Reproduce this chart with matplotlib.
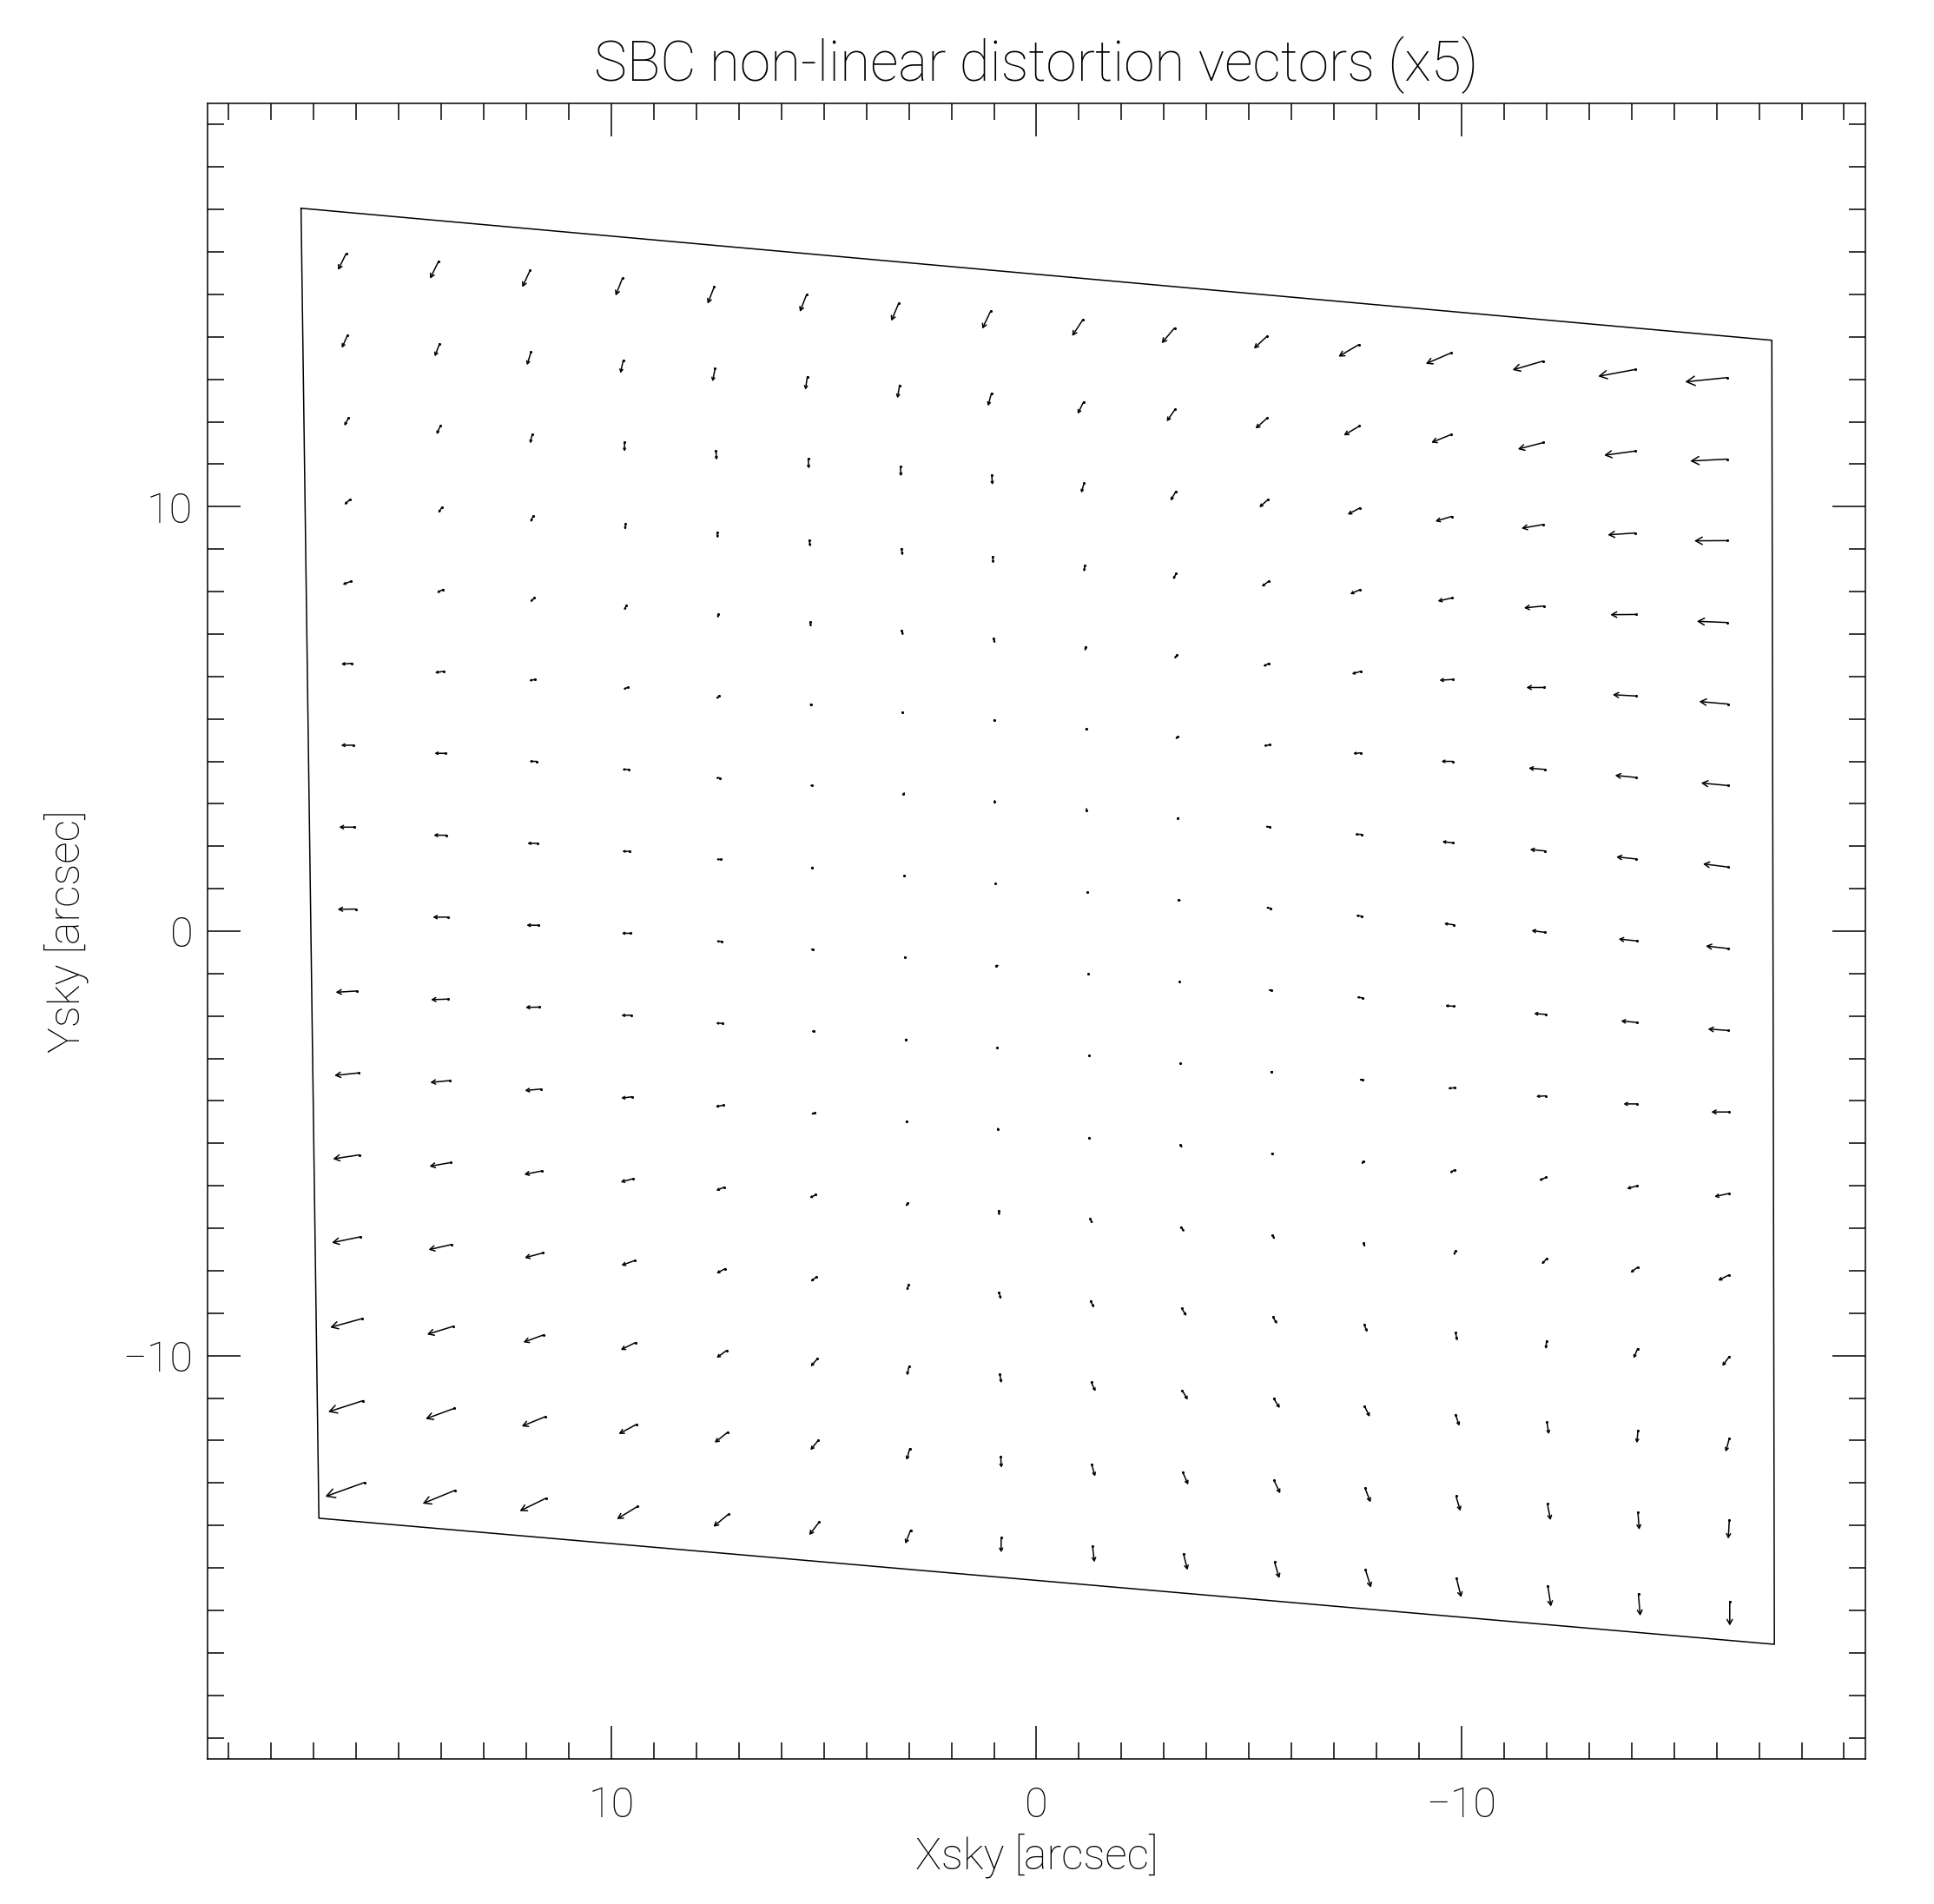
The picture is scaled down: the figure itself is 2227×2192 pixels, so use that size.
#!/usr/bin/python3

import matplotlib
matplotlib.use('Agg')
import matplotlib.pyplot as plt
from matplotlib.patches import FancyArrowPatch
from matplotlib.ticker import MultipleLocator

# sample grid on the sky [arcsec], rows from top of the detector, 16 columns each
x_tail = [
	[16.24, 14.07, 11.91, 9.74, 7.58, 5.41, 3.24, 1.08, -1.09, -3.25, -5.42, -7.59, -9.75, -11.92, -14.08, -16.25],
	[16.21, 14.04, 11.89, 9.72, 7.56, 5.39, 3.22, 1.06, -1.11, -3.26, -5.43, -7.60, -9.76, -11.93, -14.09, -16.25],
	[16.18, 14.02, 11.86, 9.69, 7.54, 5.37, 3.20, 1.05, -1.12, -3.28, -5.44, -7.61, -9.77, -11.93, -14.09, -16.26],
	[16.15, 13.99, 11.84, 9.67, 7.51, 5.35, 3.18, 1.03, -1.14, -3.29, -5.46, -7.62, -9.78, -11.94, -14.10, -16.26],
	[16.13, 13.96, 11.81, 9.65, 7.49, 5.33, 3.17, 1.01, -1.15, -3.31, -5.47, -7.63, -9.79, -11.95, -14.10, -16.27],
	[16.10, 13.94, 11.79, 9.62, 7.47, 5.31, 3.15, 1.00, -1.17, -3.32, -5.48, -7.64, -9.79, -11.96, -14.11, -16.27],
	[16.07, 13.91, 11.76, 9.60, 7.45, 5.29, 3.13, 0.98, -1.18, -3.33, -5.49, -7.65, -9.80, -11.96, -14.11, -16.27],
	[16.04, 13.88, 11.74, 9.57, 7.43, 5.27, 3.11, 0.96, -1.20, -3.35, -5.50, -7.66, -9.81, -11.97, -14.12, -16.28],
	[16.01, 13.85, 11.71, 9.55, 7.40, 5.25, 3.09, 0.94, -1.21, -3.36, -5.52, -7.67, -9.82, -11.98, -14.12, -16.28],
	[15.98, 13.83, 11.69, 9.53, 7.38, 5.23, 3.07, 0.93, -1.23, -3.38, -5.53, -7.68, -9.83, -11.98, -14.13, -16.29],
	[15.95, 13.80, 11.66, 9.50, 7.36, 5.21, 3.05, 0.91, -1.24, -3.39, -5.54, -7.69, -9.84, -11.99, -14.13, -16.29],
	[15.92, 13.77, 11.64, 9.48, 7.34, 5.19, 3.03, 0.89, -1.26, -3.40, -5.55, -7.70, -9.85, -12.00, -14.14, -16.29],
	[15.90, 13.75, 11.61, 9.45, 7.32, 5.17, 3.01, 0.88, -1.27, -3.42, -5.56, -7.71, -9.86, -12.00, -14.14, -16.30],
	[15.87, 13.72, 11.59, 9.43, 7.29, 5.15, 3.00, 0.86, -1.29, -3.43, -5.58, -7.72, -9.86, -12.01, -14.15, -16.30],
	[15.84, 13.69, 11.56, 9.41, 7.27, 5.13, 2.98, 0.84, -1.30, -3.44, -5.59, -7.73, -9.87, -12.02, -14.15, -16.30],
	[15.81, 13.67, 11.54, 9.38, 7.25, 5.11, 2.96, 0.83, -1.32, -3.46, -5.60, -7.74, -9.88, -12.03, -14.16, -16.31],
]

y_tail = [
	[15.96, 15.77, 15.57, 15.38, 15.18, 14.99, 14.79, 14.60, 14.40, 14.21, 14.01, 13.82, 13.62, 13.43, 13.23, 13.04],
	[14.03, 13.84, 13.64, 13.45, 13.25, 13.06, 12.86, 12.67, 12.47, 12.29, 12.09, 11.90, 11.70, 11.51, 11.31, 11.12],
	[12.10, 11.91, 11.71, 11.52, 11.32, 11.13, 10.94, 10.75, 10.55, 10.36, 10.16, 9.97, 9.77, 9.58, 9.38, 9.20],
	[10.17, 9.98, 9.78, 9.60, 9.40, 9.21, 9.01, 8.82, 8.62, 8.43, 8.24, 8.05, 7.85, 7.66, 7.46, 7.27],
	[8.24, 8.05, 7.85, 7.67, 7.47, 7.28, 7.08, 6.89, 6.70, 6.51, 6.31, 6.12, 5.93, 5.74, 5.54, 5.35],
	[6.31, 6.12, 5.93, 5.74, 5.54, 5.35, 5.16, 4.97, 4.77, 4.58, 4.39, 4.20, 4.00, 3.81, 3.62, 3.43],
	[4.38, 4.19, 4.00, 3.81, 3.61, 3.43, 3.23, 3.04, 2.85, 2.66, 2.46, 2.28, 2.08, 1.89, 1.70, 1.51],
	[2.45, 2.26, 2.07, 1.88, 1.69, 1.50, 1.30, 1.12, 0.92, 0.73, 0.54, 0.35, 0.15, -0.03, -0.23, -0.41],
	[0.52, 0.33, 0.14, -0.05, -0.24, -0.43, -0.62, -0.81, -1.01, -1.19, -1.39, -1.57, -1.77, -1.96, -2.15, -2.34],
	[-1.41, -1.60, -1.79, -1.98, -2.17, -2.36, -2.55, -2.74, -2.93, -3.12, -3.31, -3.50, -3.69, -3.88, -4.07, -4.26],
	[-3.34, -3.52, -3.72, -3.90, -4.10, -4.28, -4.48, -4.66, -4.86, -5.04, -5.24, -5.42, -5.62, -5.80, -6.00, -6.18],
	[-5.27, -5.45, -5.65, -5.83, -6.03, -6.21, -6.40, -6.59, -6.78, -6.97, -7.16, -7.35, -7.54, -7.72, -7.92, -8.10],
	[-7.20, -7.38, -7.58, -7.76, -7.95, -8.14, -8.33, -8.51, -8.71, -8.89, -9.09, -9.27, -9.46, -9.65, -9.84, -10.02],
	[-9.13, -9.31, -9.51, -9.69, -9.88, -10.07, -10.26, -10.44, -10.63, -10.82, -11.01, -11.19, -11.39, -11.57, -11.76, -11.95],
	[-11.06, -11.24, -11.44, -11.62, -11.81, -11.99, -12.19, -12.37, -12.56, -12.74, -12.94, -13.12, -13.31, -13.49, -13.69, -13.87],
	[-12.99, -13.17, -13.36, -13.55, -13.74, -13.92, -14.11, -14.29, -14.49, -14.67, -14.86, -15.04, -15.24, -15.42, -15.61, -15.79],
]

# non-linear distortion residuals [milliarcsec]
dx_mas = [
	[38, 39, 37, 32, 31, 31, 35, 39, 50, 61, 61, 97, 118, 144, 173, 198],
	[26, 23, 19, 13, 12, 9, 10, 16, 28, 39, 55, 74, 94, 121, 147, 174],
	[20, 18, 10, 0, -3, -3, -3, -3, 13, 25, 39, 58, 77, 104, 130, 157],
	[26, 16, 12, 1, -3, -7, -7, -3, 4, 15, 32, 48, 68, 94, 120, 145],
	[38, 29, 20, 9, 0, -6, -7, -7, 0, 13, 27, 42, 62, 85, 109, 136],
	[51, 42, 29, 20, 12, -1, -6, -6, 0, 10, 27, 38, 53, 76, 100, 127],
	[58, 50, 34, 29, 19, 3, 1, 0, 0, 3, 21, 32, 51, 70, 94, 118],
	[73, 60, 47, 35, 20, 7, 2, 0, 0, 2, 20, 29, 44, 65, 85, 107],
	[86, 70, 57, 41, 26, 12, 6, 1, 0, 0, 14, 27, 41, 55, 74, 97],
	[101, 83, 66, 47, 32, 13, 2, 0, 0, 0, 4, 18, 30, 45, 64, 83],
	[113, 92, 75, 54, 38, 18, 6, 0, -6, -9, 0, 8, 23, 33, 48, 68],
	[126, 102, 82, 60, 39, 29, 7, -4, -13, -16, -12, -5, 5, 23, 33, 51],
	[135, 110, 86, 63, 41, 28, 7, -9, -18, -22, -21, -15, -8, 3, 18, 33],
	[149, 123, 96, 70, 47, 32, 9, -7, -20, -26, -29, -24, -18, -9, 5, 17],
	[164, 136, 110, 83, 60, 37, 15, -3, -16, -26, -29, -26, -21, -15, -6, 5],
	[184, 154, 123, 98, 70, 47, 25, 0, -9, -19, -23, -26, -23, -15, -9, 0],
]

dy_mas = [
	[-77, -80, -80, -82, -80, -80, -83, -82, -76, -72, -57, -57, -51, -42, -32, -20],
	[-58, -60, -61, -61, -60, -61, -61, -60, -57, -56, -50, -44, -38, -31, -20, -9],
	[-39, -41, -44, -44, -44, -47, -45, -47, -45, -44, -35, -31, -23, -18, -9, -1],
	[-25, -26, -29, -29, -29, -31, -32, -32, -31, -29, -25, -22, -15, -9, -1, 6],
	[-15, -16, -19, -23, -19, -23, -23, -22, -20, -19, -15, -12, -4, 0, 6, 12],
	[-4, -6, -6, -9, -15, -13, -10, -10, -12, -12, -6, -3, 0, 6, 10, 12],
	[0, 0, 0, 0, 0, 0, -1, -1, -1, -2, 0, 0, 6, 7, 10, 15],
	[0, 0, 0, 0, 0, 0, 0, 0, 0, 0, 4, 4, 6, 9, 9, 12],
	[-1, 0, 0, 0, 0, 0, 0, 0, 0, 0, 1, 3, 3, 4, 7, 7],
	[-6, -3, -1, -1, 0, 0, 0, 0, 0, 0, 0, 0, -3, -3, 0, 0],
	[-12, -9, -7, -7, -7, -7, -9, -6, -12, -13, -7, -15, -16, -15, -13, -15],
	[-19, -18, -16, -16, -16, -15, -18, -22, -22, -23, -20, -19, -20, -25, -25, -26],
	[-28, -25, -23, -23, -22, -23, -28, -32, -32, -35, -32, -35, -38, -39, -44, -45],
	[-41, -38, -35, -35, -34, -37, -41, -41, -42, -44, -45, -50, -53, -56, -60, -63],
	[-53, -50, -45, -45, -48, -47, -54, -54, -57, -60, -61, -67, -70, -77, -82, -89],
	[-66, -63, -60, -60, -58, -61, -64, -69, -75, -76, -77, -85, -91, -98, -104, -114],
]

# detector outline on the sky [arcsec]
quad_x = [17.30, -17.30, -17.36, 16.88, 17.30]
quad_y = [17.03, 13.92, -16.80, -13.83, 17.03]

scale = 5


def main():
	''' draws the SBC distortion vector plot'''

	plt.rcParams['font.family'] = ['Roboto', 'DejaVu Sans']
	plt.rcParams['font.weight'] = 'light'
	plt.rcParams['axes.labelweight'] = 'light'

	fig = plt.figure(figsize=(22.27, 21.92), dpi=100)
	ax = fig.add_axes([0.1073, 0.0762, 0.8572, 0.8695])
	ax.set_xlim(19.5, -19.5)
	ax.set_ylim(-19.5, 19.5)

	ax.plot(quad_x, quad_y, color='k', lw=1.1)

	# points per arcsec, to size the arrow heads like the original
	p0 = ax.transData.transform((0, 0))
	p1 = ax.transData.transform((1, 0))
	pt_per_unit = abs(p1[0] - p0[0]) * 72.0 / fig.dpi

	for r in range(len(x_tail)):
		for c in range(len(x_tail[r])):
			x0 = x_tail[r][c]
			y0 = y_tail[r][c]
			u = scale * dx_mas[r][c] / 1000.0
			v = scale * dy_mas[r][c] / 1000.0
			length = (u * u + v * v) ** 0.5
			if length == 0:
				continue
			arr = FancyArrowPatch((x0, y0), (x0 + u, y0 + v),
				arrowstyle='->,head_length=0.4,head_width=0.22',
				mutation_scale=0.5 * length * pt_per_unit,
				shrinkA=0, shrinkB=0, lw=1.1, color='k')
			ax.add_patch(arr)

	tails_x = [x for row in x_tail for x in row]
	tails_y = [y for row in y_tail for y in row]
	ax.plot(tails_x, tails_y, 'k.', ms=2.5)

	ax.xaxis.set_major_locator(MultipleLocator(10))
	ax.xaxis.set_minor_locator(MultipleLocator(1))
	ax.yaxis.set_major_locator(MultipleLocator(10))
	ax.yaxis.set_minor_locator(MultipleLocator(1))
	ax.tick_params(which='both', direction='in', top=True, right=True, width=1.1, colors='k')
	ax.tick_params(which='major', length=27.4)
	ax.tick_params(which='minor', length=13.7)
	ax.tick_params(axis='x', which='major', pad=22, labelsize=35)
	ax.tick_params(axis='y', which='major', pad=12, labelsize=35)
	for s in ax.spines.values():
		s.set_linewidth(1.1)

	ax.set_xlabel('Xsky [arcsec]', fontsize=36, fontweight='light')
	ax.xaxis.set_label_coords(0.5, -0.045)
	ax.set_ylabel('Ysky [arcsec]', fontsize=36, fontweight='light')
	ax.yaxis.set_label_coords(-0.072, 0.5)

	fig.text(0.5359, 1 - 93 / 2192.0, 'SBC non-linear distortion vectors (x5)',
		ha='center', va='baseline', fontsize=46)

	fig.savefig('out.png', dpi=100)

	return


if __name__ == '__main__':
	main()
